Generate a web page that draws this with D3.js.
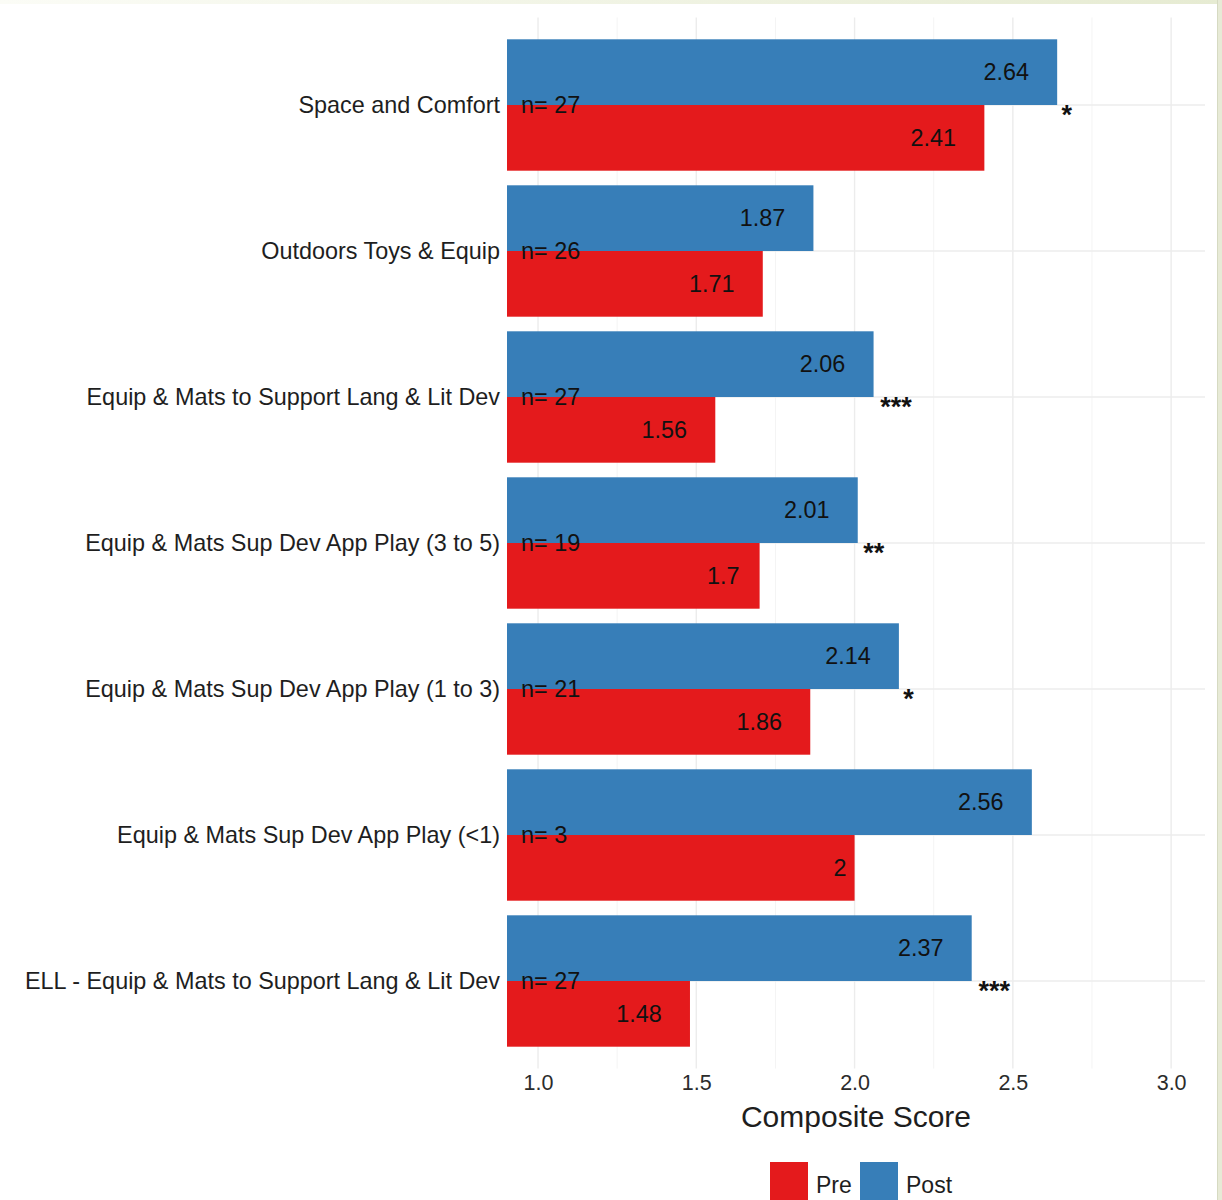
<!DOCTYPE html>
<html>
<head>
<meta charset="utf-8">
<script src="https://cdn.jsdelivr.net/npm/d3@7"></script>
<style>
  html, body { margin: 0; padding: 0; background: #ffffff; }
  svg { display: block; font-family: "Liberation Sans", Arial, sans-serif; }
</style>
</head>
<body>
<svg id="chart" width="1222" height="1200"></svg>
<script>
// Composite scores before and after, by scale
const categories = [
  "Space and Comfort",
  "Outdoors Toys & Equip",
  "Equip & Mats to Support Lang & Lit Dev",
  "Equip & Mats Sup Dev App Play (3 to 5)",
  "Equip & Mats Sup Dev App Play (1 to 3)",
  "Equip & Mats Sup Dev App Play (<1)",
  "ELL - Equip & Mats to Support Lang & Lit Dev"
];
const preValues  = [2.41, 1.71, 1.56, 1.70, 1.86, 2.00, 1.48];
const postValues = [2.64, 1.87, 2.06, 2.01, 2.14, 2.56, 2.37];
const preLabels  = ["2.41", "1.71", "1.56", "1.7", "1.86", "2", "1.48"];
const postLabels = ["2.64", "1.87", "2.06", "2.01", "2.14", "2.56", "2.37"];
const sampleSizes = [27, 26, 27, 19, 21, 3, 27];
const significance = ["*", "", "***", "**", "*", "", "***"];
const xTicks = [1.0, 1.5, 2.0, 2.5, 3.0];
const xMinorTicks = [1.25, 1.75, 2.25, 2.75];
const seriesNames = ["Pre", "Post"];
const seriesColors = ["#E41A1C", "#377EB8"];

const svg = d3.select("#chart");

// page frame strips
const defs = svg.append("defs");
const grad = defs.append("linearGradient").attr("id", "topStrip")
  .attr("x1", "0").attr("x2", "1").attr("y1", "0").attr("y2", "0");
grad.append("stop").attr("offset", "0").attr("stop-color", "#fbfcf6");
grad.append("stop").attr("offset", "1").attr("stop-color", "#e6ebd2");
svg.append("rect").attr("x", 0).attr("y", 0).attr("width", 1222).attr("height", 4)
  .attr("fill", "url(#topStrip)");
svg.append("rect").attr("x", 1217).attr("y", 0).attr("width", 5).attr("height", 1200)
  .attr("fill", "#e7ead6");
svg.append("rect").attr("x", 1217).attr("y", 0).attr("width", 1).attr("height", 1200)
  .attr("fill", "#d6dac2");

const panel = { left: 507, right: 1205, top: 17.4, bottom: 1068.6 };

const x = d3.scaleLinear().domain([0.902, 3.107]).range([panel.left, panel.right]);
const y = d3.scalePoint().domain(categories).range([panel.top, panel.bottom]).padding(0.6);
const step = y.step();
const halfBar = step * 0.45;

// grid
const grid = svg.append("g");
grid.selectAll("line.minor").data(xMinorTicks).join("line")
  .attr("x1", d => x(d)).attr("x2", d => x(d))
  .attr("y1", panel.top).attr("y2", panel.bottom)
  .attr("stroke", "#f4f4f4").attr("stroke-width", 1);
grid.selectAll("line.major").data(xTicks).join("line")
  .attr("x1", d => x(d)).attr("x2", d => x(d))
  .attr("y1", panel.top).attr("y2", panel.bottom)
  .attr("stroke", "#ececec").attr("stroke-width", 1.4);
grid.selectAll("line.hmajor").data(categories).join("line")
  .attr("x1", panel.left).attr("x2", panel.right)
  .attr("y1", d => y(d)).attr("y2", d => y(d))
  .attr("stroke", "#ececec").attr("stroke-width", 1.4);

// bars
const bars = svg.append("g");
bars.selectAll("rect.post").data(categories).join("rect")
  .attr("x", panel.left)
  .attr("y", d => y(d) - halfBar)
  .attr("width", (d, i) => x(postValues[i]) - panel.left)
  .attr("height", halfBar)
  .attr("fill", seriesColors[1]);
bars.selectAll("rect.pre").data(categories).join("rect")
  .attr("x", panel.left)
  .attr("y", d => y(d))
  .attr("width", (d, i) => x(preValues[i]) - panel.left)
  .attr("height", halfBar)
  .attr("fill", seriesColors[0]);

// value labels, shifted left by part of their own width
const labelFont = 23.4;
function valueLabels(values, labels, offset) {
  const g = svg.append("g");
  g.selectAll("text").data(categories).join("text")
    .attr("y", d => y(d) + offset)
    .attr("dy", "0.35em")
    .attr("text-anchor", "end")
    .attr("font-size", labelFont)
    .attr("fill", "#111")
    .text((d, i) => labels[i])
    .each(function (d, i) {
      const w = this.getComputedTextLength();
      d3.select(this).attr("x", x(values[i]) - 0.62 * w);
    });
}
valueLabels(postValues, postLabels, -halfBar / 2);
valueLabels(preValues, preLabels, halfBar / 2);

// sample sizes
svg.append("g").selectAll("text").data(categories).join("text")
  .attr("x", panel.left + 14)
  .attr("y", d => y(d))
  .attr("dy", "0.35em")
  .attr("font-size", labelFont)
  .attr("fill", "#111")
  .attr("xml:space", "preserve")
  .text((d, i) => "n= " + sampleSizes[i]);

// significance markers
svg.append("g").selectAll("text").data(categories).join("text")
  .attr("y", d => y(d) + 19)
  .attr("font-size", 27)
  .attr("font-weight", "bold")
  .attr("fill", "#111")
  .text((d, i) => significance[i])
  .each(function (d, i) {
    const w = this.getComputedTextLength();
    d3.select(this).attr("x", x(postValues[i]) + 3 + 0.12 * w);
  });

// category axis labels
svg.append("g").selectAll("text").data(categories).join("text")
  .attr("x", panel.left - 7)
  .attr("y", d => y(d))
  .attr("dy", "0.35em")
  .attr("text-anchor", "end")
  .attr("font-size", labelFont)
  .attr("fill", "#1e1e1e")
  .text(d => d);

// x axis
const xAxis = svg.append("g")
  .attr("transform", `translate(0,${panel.bottom})`)
  .call(d3.axisBottom(x).tickValues(xTicks).tickFormat(d3.format(".1f")).tickSize(0).tickPadding(6));
xAxis.select(".domain").remove();
xAxis.selectAll("text")
  .attr("font-size", 21.5)
  .attr("font-family", "Liberation Sans, Arial, sans-serif")
  .attr("fill", "#2b2b2b");

svg.append("text")
  .attr("x", (panel.left + panel.right) / 2)
  .attr("y", 1116)
  .attr("dy", "0.35em")
  .attr("text-anchor", "middle")
  .attr("font-size", 30)
  .attr("fill", "#1e1e1e")
  .text("Composite Score");

// legend
const legend = svg.append("g");
const legendX = [770, 860];
seriesNames.forEach((name, i) => {
  legend.append("rect")
    .attr("x", legendX[i]).attr("y", 1162)
    .attr("width", 38).attr("height", 40)
    .attr("fill", seriesColors[i]);
  legend.append("text")
    .attr("x", legendX[i] + 46).attr("y", 1185)
    .attr("dy", "0.35em")
    .attr("font-size", 23)
    .attr("fill", "#1e1e1e")
    .text(name);
});
</script>
</body>
</html>
